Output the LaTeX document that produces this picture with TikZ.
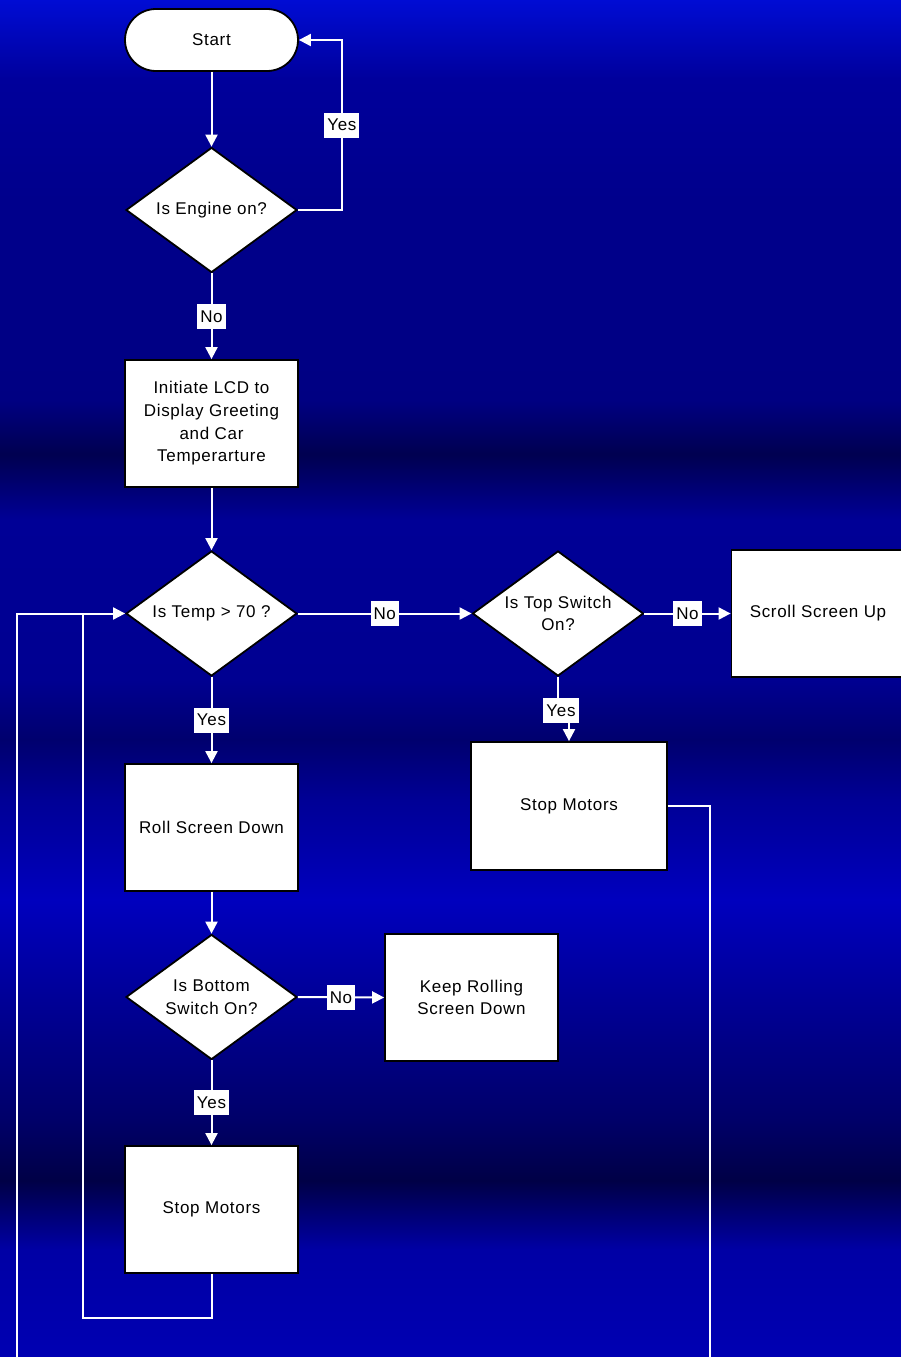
\documentclass[tikz,border=0pt]{standalone}
\usepackage{fontspec}
\setmainfont[LetterSpace=4]{Liberation Sans}
\usetikzlibrary{shapes.geometric,arrows.meta}
\definecolor{bA}{RGB}{0,0,178}
\definecolor{bB}{RGB}{0,0,165}
\definecolor{bC}{RGB}{0,0,70}
\definecolor{bD}{RGB}{0,0,105}
\definecolor{bE}{RGB}{0,0,150}
\definecolor{bF}{RGB}{0,0,190}
\definecolor{bG}{RGB}{0,0,150}
\definecolor{bH}{RGB}{0,0,110}
\definecolor{bI}{RGB}{0,0,145}
\definecolor{bJ}{RGB}{0,0,150}
\definecolor{bK}{RGB}{0,0,80}
\definecolor{bL}{RGB}{0,0,130}
\definecolor{bM}{RGB}{0,0,140}
\definecolor{bN}{RGB}{0,0,155}
\definecolor{bO}{RGB}{0,12,212}
\pgfdeclareverticalshading{bgshade}{100bp}{color(0bp)=(bA); color(25bp)=(bA); color(28.95bp)=(bB); color(31.5bp)=(bC); color(33.75bp)=(bD); color(38.15bp)=(bE); color(41.85bp)=(bF); color(45.5bp)=(bG); color(47.75bp)=(bH); color(49.95bp)=(bI); color(55.85bp)=(bJ); color(58.25bp)=(bK); color(60.25bp)=(bL); color(67.65bp)=(bM); color(72.05bp)=(bN); color(75bp)=(bO); color(100bp)=(bO)}
\tikzset{
  txtfont/.style={font=\fontsize{17}{22.7}\selectfont},
  box/.style={draw=black,line width=1.8pt,fill=white,minimum width=173pt,minimum height=127pt,inner sep=0pt,align=center,txtfont},
  dia/.style={diamond,draw=black,line width=1.8pt,fill=white,minimum width=171pt,minimum height=125pt,inner sep=0pt},
  dtxt/.style={align=center,inner sep=0pt,txtfont},
  pill/.style={draw=black,line width=1.8pt,fill=white,rounded corners=31pt,minimum width=173pt,minimum height=62pt,inner sep=0pt,txtfont},
  lab/.style={fill=white,text=black,inner sep=3pt,minimum height=25pt,txtfont},
  arr/.style={draw=white,line width=2pt,-{Triangle[width=12pt,length=12pt]}},
  ln/.style={draw=white,line width=2pt},
}
\begin{document}
\begin{tikzpicture}[x=1pt,y=-1pt]
\useasboundingbox (0,0) rectangle (901,1357);
\shade[shading=bgshade] (0,0) rectangle (901,1357);

\node[pill] (start) at (211.5,40) {Start};
\node[dia] (eng) at (211.5,210) {};
\node[dtxt] (engt) at (eng) {Is Engine on?};
\node[box] (lcd) at (211.5,423.5) {Initiate LCD to\\Display Greeting\\and Car\\Temperarture};
\node[dia] (temp) at (211.5,613.5) {};
\node[dtxt] (tempt) at (temp) {Is Temp > 70 ?};
\node[dia] (top) at (558,613.5) {};
\node[dtxt] (topt) at (top) {Is Top Switch\\On?};
\node[box] (scroll) at (818,613.5) {Scroll Screen Up};
\node[box,minimum width=196pt,minimum height=128pt] (sm2) at (569,806) {Stop Motors};
\node[box] (roll) at (211.5,827.5) {Roll Screen Down};
\node[dia] (bot) at (211.5,997) {};
\node[dtxt] (bott) at (bot) {Is Bottom\\Switch On?};
\node[box] (keep) at (471.5,997.5) {Keep Rolling\\Screen Down};
\node[box] (sm1) at (211.5,1209.5) {Stop Motors};

\coordinate (lx) at (83,613.5);
\coordinate (fx) at (17,613.5);
\coordinate (fb) at (17,1362);
\coordinate (rb) at (710,1362);

\draw[arr] (start.south) -- (eng.north);
\draw[arr] (eng.east) -- ++(44,0) coordinate (ey) -- node[lab]{Yes} (ey |- start.east) -- (start.east);
\draw[arr] (eng.south) -- node[lab]{No} (lcd.north);
\draw[arr] (lcd.south) -- (temp.north);
\draw[arr] (temp.east) -- node[lab]{No} (top.west);
\draw[arr] (top.east) -- node[lab]{No} (scroll.west);
\draw[arr] (top.south) -- ++(0,34) node[lab,xshift=3pt]{Yes} -| (sm2.north);
\draw[arr] (temp.south) -- node[lab]{Yes} (roll.north);
\draw[arr] (roll.south) -- (bot.north);
\draw[arr] (bot.east) -- node[lab]{No} (keep.west);
\draw[arr] (bot.south) -- node[lab]{Yes} (sm1.north);
\draw[arr] (sm1.south) -- ++(0,44) -| (lx) -- (temp.west);
\draw[ln] (fb) -- (fx) -- (lx);
\draw[ln] (sm2.east) -| (rb);
\end{tikzpicture}
\end{document}
